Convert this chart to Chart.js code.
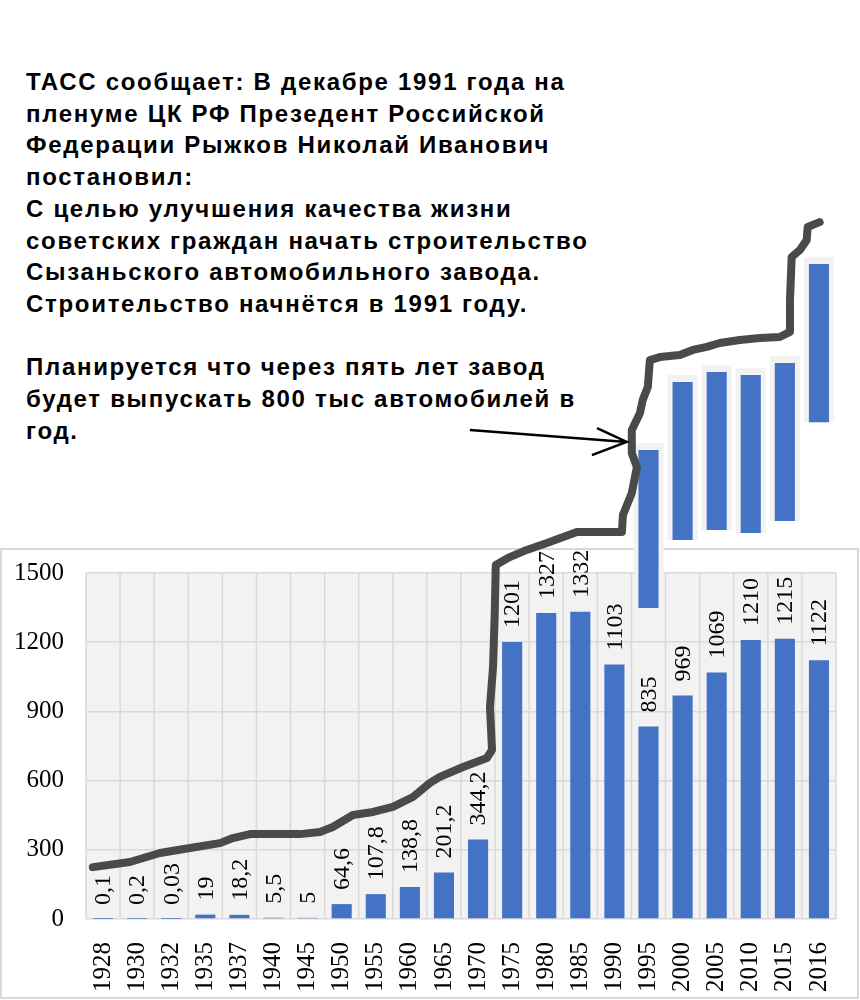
<!DOCTYPE html>
<html>
<head>
<meta charset="utf-8">
<script src="https://cdn.jsdelivr.net/npm/chart.js@4.4.1/dist/chart.umd.min.js"></script>
<style>
  body { margin: 0; background: #fff; }
  #wrap { position: relative; width: 860px; height: 1000px; overflow: hidden; }
  #box { position: absolute; left: 0; top: 548px; width: 855px; height: 447px; border: 2px solid #d9d9d9; }
  #msg { position: absolute; left: 26px; top: 66px; font: bold 24px "Liberation Sans", Arial, sans-serif;
         letter-spacing: 1.7px; line-height: 31.7px; color: #000; white-space: pre; }
  canvas { position: absolute; left: 0; top: 0; }
</style>
</head>
<body>
<div id="wrap">
  <div id="box"></div>
  <div id="msg">ТАСС сообщает: В декабре 1991 года на
пленуме ЦК РФ Презедент Российской
Федерации Рыжков Николай Иванович
постановил:
С целью улучшения качества жизни
советских граждан начать строительство
Сызаньского автомобильного завода.
Строительство начнётся в 1991 году.

Планируется что через пять лет завод
будет выпускать 800 тыс автомобилей в
год.</div>
  <canvas id="chart" width="860" height="1000"></canvas>
</div>
<script>
// годы и выпуск автомобилей
var years = ["1928","1930","1932","1935","1937","1940","1945","1950","1955","1960","1965",
             "1970","1975","1980","1985","1990","1995","2000","2005","2010","2015","2016"];
var output = [0.1, 0.2, 0.03, 19, 18.2, 5.5, 5, 64.6, 107.8, 138.8, 201.2,
              344.2, 1201, 1327, 1332, 1103, 835, 969, 1069, 1210, 1215, 1122];
var yTicks = [0, 300, 600, 900, 1200, 1500];

// "вклеенные" куски столбцов над графиком (1995..2016)
var floatYears = ["1995","2000","2005","2010","2015","2016"];
var floatLow  = [1348, 1643, 1686, 1673, 1725, 2154];
var floatHigh = [2033, 2328, 2371, 2358, 2410, 2839];

// нарисованная от руки линия (x - номер категории, y - значение)
var lineX = [-0.30, 0.79, 1.67, 2.55, 3.43, 3.81, 4.31, 5.78, 6.36, 6.74, 7.33, 7.92, 8.50, 9.09,
             9.59, 9.88, 10.56, 11.26, 11.41, 11.35, 11.44, 11.49, 11.52, 11.93, 12.43, 13.02,
             13.90, 15.22, 15.25, 15.51, 15.66, 15.51, 15.51, 15.75, 15.83, 15.98, 16.04, 16.33,
             16.92, 17.30, 17.71, 18.09, 18.68, 19.27, 19.85, 20.15, 20.15, 20.20, 20.44, 20.64,
             20.67, 21.02];
var lineY = [225, 247, 286, 308, 329, 351, 368, 368, 377, 399, 451, 464, 486, 529,
             590, 616, 659, 698, 733, 919, 1092, 1327, 1535, 1569, 1600, 1630,
             1678, 1678, 1751, 1847, 1959, 2020, 2120, 2194, 2250, 2306, 2423, 2436,
             2445, 2467, 2480, 2497, 2510, 2519, 2523, 2545, 2683, 2870, 2900, 2943,
             3000, 3021];

// стрелка: хвост, острие, два уса
var arrowX = [10.76, 15.36, 14.49, 14.34];
var arrowY = [2120, 2068, 2128, 2011];

var floatData = years.map(function (y) {
  var i = floatYears.indexOf(y);
  return i < 0 ? null : [floatLow[i], floatHigh[i]];
});
var haloData = years.map(function (y) {
  var i = floatYears.indexOf(y);
  return i < 0 ? null : [floatLow[i], floatHigh[i] + 30];
});
var linePts = lineX.map(function (x, i) { return { x: x, y: lineY[i] }; });

var serif = '"Liberation Serif", "Times New Roman", serif';

var plotBack = {
  id: 'plotBack',
  beforeDraw: function (chart) {
    var ctx = chart.ctx, a = chart.chartArea, y = chart.scales.y;
    var top = y.getPixelForValue(yTicks[yTicks.length - 1]), bot = y.getPixelForValue(0);
    ctx.save();
    ctx.fillStyle = '#f2f2f2';
    ctx.fillRect(a.left, top, a.right - a.left, bot - top);
    ctx.restore();
  },
  beforeDatasetsDraw: function (chart) {
    var ctx = chart.ctx, x = chart.scales.x, y = chart.scales.y;
    var top = y.getPixelForValue(yTicks[yTicks.length - 1]), bot = y.getPixelForValue(0);
    var half = (x.getPixelForValue(1) - x.getPixelForValue(0)) / 2;
    ctx.save();
    ctx.strokeStyle = '#d9d9d9';
    ctx.lineWidth = 1.5;
    for (var i = 0; i <= years.length; i++) {
      var px = x.getPixelForValue(i) - half;
      ctx.beginPath();
      ctx.moveTo(px, top);
      ctx.lineTo(px, bot);
      ctx.stroke();
    }
    ctx.restore();
  },
  afterDatasetDraw: function (chart, args) {
    if (args.index !== 0) return;
    var ctx = chart.ctx;
    ctx.save();
    ctx.fillStyle = '#000';
    ctx.font = '24px ' + serif;
    ctx.textAlign = 'left';
    ctx.textBaseline = 'middle';
    args.meta.data.forEach(function (bar, i) {
      ctx.save();
      ctx.translate(bar.x, bar.y - 14);
      ctx.rotate(-Math.PI / 2);
      ctx.fillText(String(output[i]).replace('.', ','), 0, 1);
      ctx.restore();
    });
    ctx.restore();
  },
  afterDraw: function (chart) {
    var ctx = chart.ctx, xl = chart.scales.xl, y = chart.scales.y;
    var p = arrowX.map(function (v, i) { return [xl.getPixelForValue(v), y.getPixelForValue(arrowY[i])]; });
    ctx.save();
    ctx.strokeStyle = '#000';
    ctx.lineWidth = 2.5;
    ctx.beginPath();
    ctx.moveTo(p[0][0], p[0][1]); ctx.lineTo(p[1][0], p[1][1]);
    ctx.moveTo(p[2][0], p[2][1]); ctx.lineTo(p[1][0], p[1][1]); ctx.lineTo(p[3][0], p[3][1]);
    ctx.stroke();
    ctx.restore();
  }
};

new Chart(document.getElementById('chart').getContext('2d'), {
  data: {
    labels: years,
    datasets: [
      { type: 'bar', data: output, backgroundColor: '#4472c4', barPercentage: 0.59,
        categoryPercentage: 1, grouped: false, order: 3 },
      { type: 'bar', data: haloData, backgroundColor: '#f2f2f2', barPercentage: 0.88,
        categoryPercentage: 1, grouped: false, order: 5 },
      { type: 'bar', data: floatData, backgroundColor: '#4472c4', barPercentage: 0.59,
        categoryPercentage: 1, grouped: false, order: 4 },
      { type: 'line', xAxisID: 'xl', data: linePts, borderColor: '#4a4a4a', borderWidth: 8,
        pointRadius: 0, tension: 0, borderJoinStyle: 'round', borderCapStyle: 'round', order: 1 }
    ]
  },
  options: {
    responsive: false,
    animation: false,
    layout: { autoPadding: false, padding: { left: 0, right: 24, top: 0, bottom: 0 } },
    plugins: { legend: { display: false }, tooltip: { enabled: false } },
    scales: {
      x: {
        type: 'category',
        grid: { display: false },
        border: { display: false },
        ticks: { color: '#000', font: { family: serif, size: 25 }, minRotation: 90, maxRotation: 90,
                 padding: 15, autoSkip: false },
        afterFit: function (s) { s.height = 81; s.paddingLeft = 0; s.paddingRight = 0; }
      },
      xl: { type: 'linear', min: -0.5, max: 21.5, display: false },
      y: {
        min: 0, max: 3984,
        afterBuildTicks: function (s) { s.ticks = yTicks.map(function (v) { return { value: v }; }); },
        grid: { color: '#d9d9d9', lineWidth: 1.5, drawTicks: false },
        border: { display: false },
        ticks: { color: '#000', font: { family: serif, size: 25 }, padding: 22,
                 callback: function (v) { return String(v); } },
        afterFit: function (s) { s.width = 86; s.paddingTop = 0; s.paddingBottom = 0; }
      }
    }
  },
  plugins: [plotBack]
});
</script>
</body>
</html>
